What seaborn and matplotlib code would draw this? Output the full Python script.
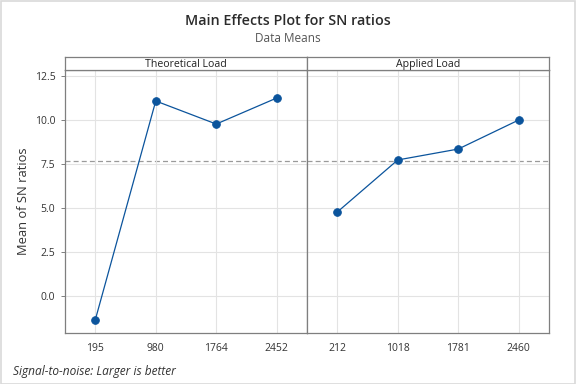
import numpy as np
import pandas as pd
import matplotlib
matplotlib.use("Agg")
from matplotlib import pyplot as plt
from matplotlib.patches import Rectangle
import seaborn as sns

# data
theoretical_levels = ["195", "980", "1764", "2452"]
theoretical_means = [-1.36, 11.08, 9.77, 11.25]
applied_levels = ["212", "1018", "1781", "2460"]
applied_means = [4.77, 7.73, 8.35, 10.0]
panel_names = ["Theoretical Load", "Applied Load"]
grand_mean = 7.69
y_ticks = [0.0, 2.5, 5.0, 7.5, 10.0, 12.5]

sns.set_style("white")
plt.rcParams["font.family"] = ["Open Sans", "DejaVu Sans"]

line_color = "#0b549c"
spine_color = "#7f7f7f"
grid_color = "#e3e3e3"

fig = plt.figure(figsize=(5.76, 3.84), dpi=100)
fig.patches.append(Rectangle((0.001, 0.001), 0.997, 0.997, transform=fig.transFigure,
                             fill=False, edgecolor="#d9d9d9", linewidth=1.2))

left, right = 65 / 576, 549 / 576
bottom, top, strip_top = 1 - 333 / 384, 1 - 70 / 384, 1 - 57 / 384
w = (right - left) / 2

panels = [(theoretical_levels, theoretical_means), (applied_levels, applied_means)]
for i, (levels, means) in enumerate(panels):
    ax = fig.add_axes([left + i * w, bottom, w, top - bottom])
    df = pd.DataFrame({"level": levels, "mean": means})
    sns.pointplot(data=df, x="level", y="mean", order=levels, ax=ax,
                  color=line_color, markers="o", linestyles="-",
                  linewidth=0.9, markersize=5.5, errorbar=None)
    ax.axhline(grand_mean, color="#9a9a9a", linestyle=(0, (4, 2.5)), linewidth=0.9, zorder=0)
    ax.set_xlim(-0.5, 3.5)
    ax.set_ylim(-2.1, 12.84)
    ax.set_yticks(y_ticks)
    ax.set_xlabel("")
    ax.grid(True, color=grid_color, linewidth=0.8)
    ax.set_axisbelow(True)
    for s in ax.spines.values():
        s.set_color(spine_color)
        s.set_linewidth(0.9)
    ax.tick_params(axis="both", labelsize=7.5, colors="#333333", length=3, width=0.7,
                   color=spine_color, direction="out", left=(i == 0), bottom=False, pad=4)
    if i == 0:
        ax.set_ylabel("Mean of SN ratios", fontsize=9.3, color="#333333", labelpad=3)
        ax.set_yticklabels([f"{t:.1f}" for t in y_ticks])
    else:
        ax.set_ylabel("")
        ax.set_yticklabels([])
        ax.tick_params(axis="y", length=0)

    sax = fig.add_axes([left + i * w, top, w, strip_top - top])
    sax.set_xticks([])
    sax.set_yticks([])
    for s in sax.spines.values():
        s.set_color(spine_color)
        s.set_linewidth(0.9)
    sax.text(0.5, 0.45, panel_names[i], ha="center", va="center", fontsize=7.6,
             color="#222222", transform=sax.transAxes)

fig.text(0.5, 1 - 21 / 384, "Main Effects Plot for SN ratios", ha="center", va="center",
         fontsize=10.3, fontweight="semibold", color="#2b2b2b")
fig.text(0.5, 1 - 39 / 384, "Data Means", ha="center", va="center",
         fontsize=8.5, color="#555555")
fig.text(13 / 576, 1 - 372 / 384, "Signal-to-noise: Larger is better", ha="left", va="center",
         fontsize=8.6, style="italic", color="#333333")

fig.savefig("out.png", dpi=100)
